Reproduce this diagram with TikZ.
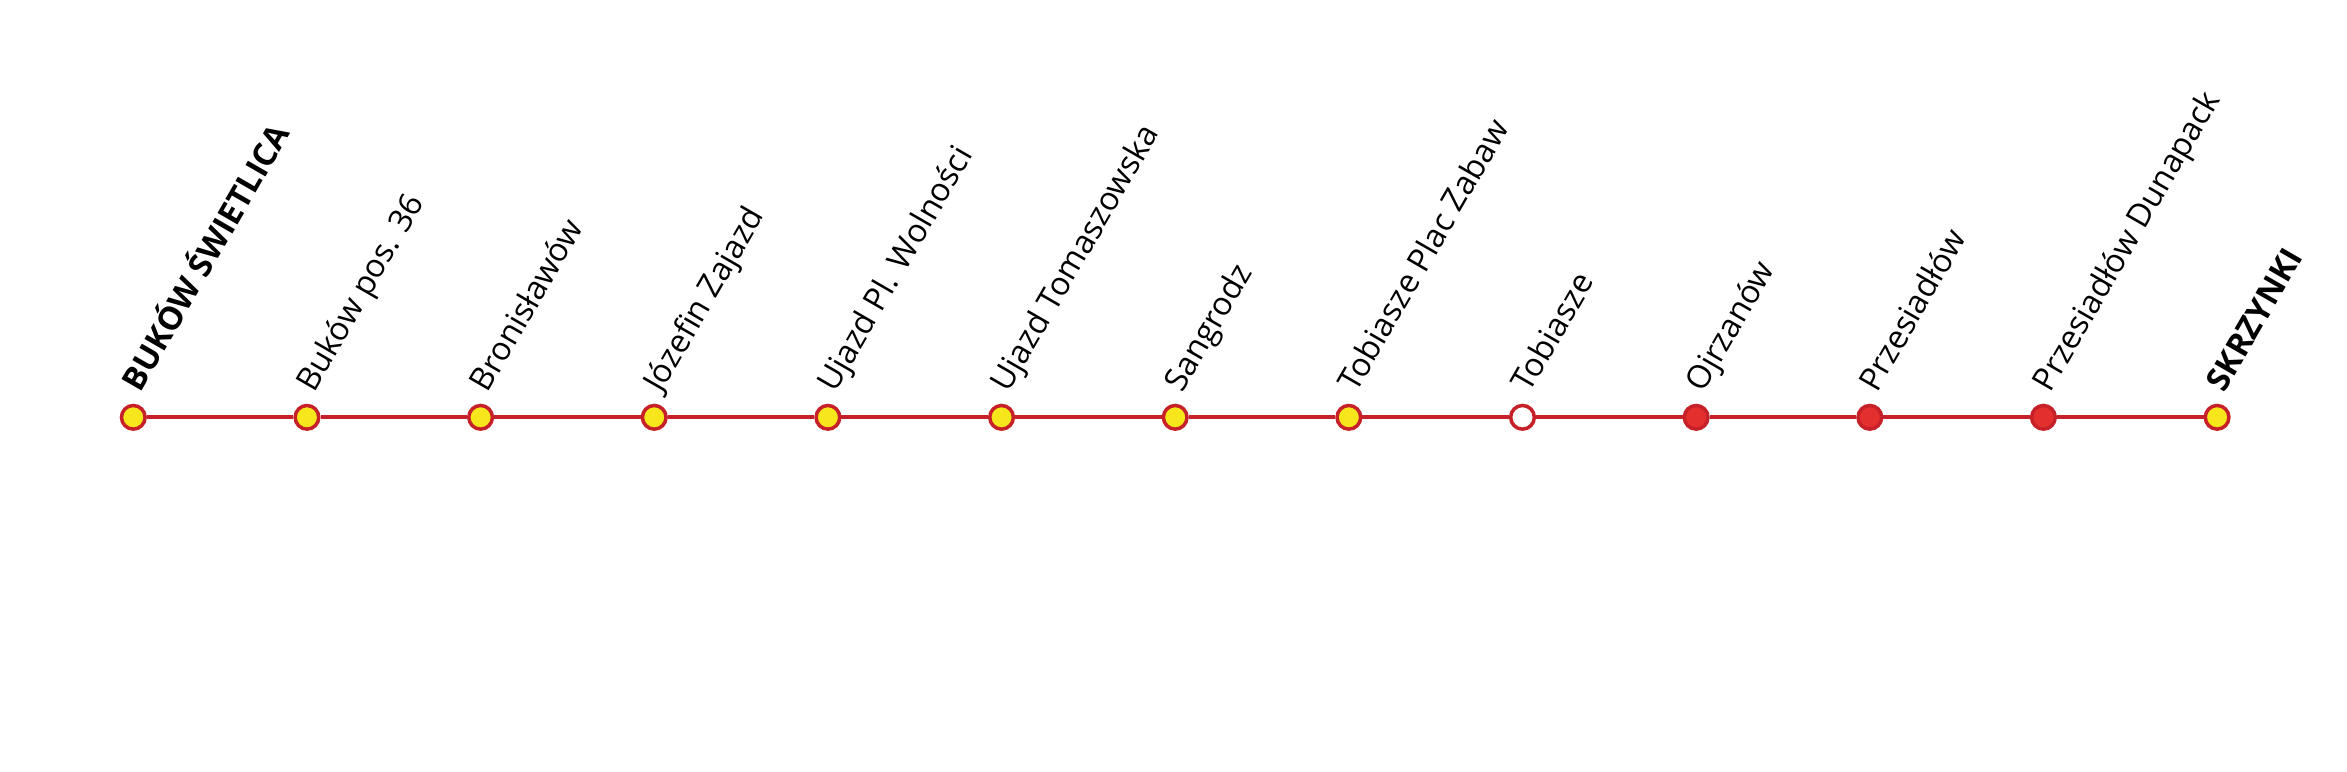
\documentclass[tikz,border=0pt]{standalone}
\usepackage{fontspec}
\setmainfont{Open Sans}
\definecolor{linered}{HTML}{C62128}
\definecolor{stnyellow}{HTML}{F7E61B}
\definecolor{stnred}{HTML}{E3302F}
\begin{document}
\begin{tikzpicture}[x=0.3pt,y=-0.3pt,
  stn/.style={circle,draw=linered,line width=1.05pt,minimum size=7.1pt,inner sep=0pt},
  stny/.style={stn,fill=stnyellow},
  stnw/.style={stn,fill=white},
  stnr/.style={stn,fill=stnred},
  lbl/.style={anchor=base west,inner sep=0pt,rotate=60,font=\fontsize{9.7pt}{11pt}\selectfont},
  lblb/.style={lbl,font=\fontsize{9.7pt}{11pt}\selectfont\bfseries},
  track/.style={draw=linered,line width=1.25pt}]
\useasboundingbox (0,0) rectangle (2347,771);
\foreach \i/\st/\lb/\name in {
  1/stny/lblb/BUKÓW ŚWIETLICA,
  2/stny/lbl/Buków pos. 36,
  3/stny/lbl/Bronisławów,
  4/stny/lbl/Józefin Zajazd,
  5/stny/lbl/Ujazd Pl. Wolności,
  6/stny/lbl/Ujazd Tomaszowska,
  7/stny/lbl/Sangrodz,
  8/stny/lbl/Tobiasze Plac Zabaw,
  9/stnw/lbl/Tobiasze,
  10/stnr/lbl/Ojrzanów,
  11/stnr/lbl/Przesiadłów,
  12/stnr/lbl/Przesiadłów Dunapack,
  13/stny/lblb/SKRZYNKI}{
  \node[\st] (s\i) at ({133.3+(\i-1)*173.65},417.3) {};
  \node[\lb] (l\i) at ([shift={(7,-23)}]s\i.center) {\name};
}
\foreach \i [evaluate=\i as \j using int(\i+1)] in {1,...,12}{
  \draw[track] (s\i) -- (s\j);
}
\end{tikzpicture}
\end{document}
